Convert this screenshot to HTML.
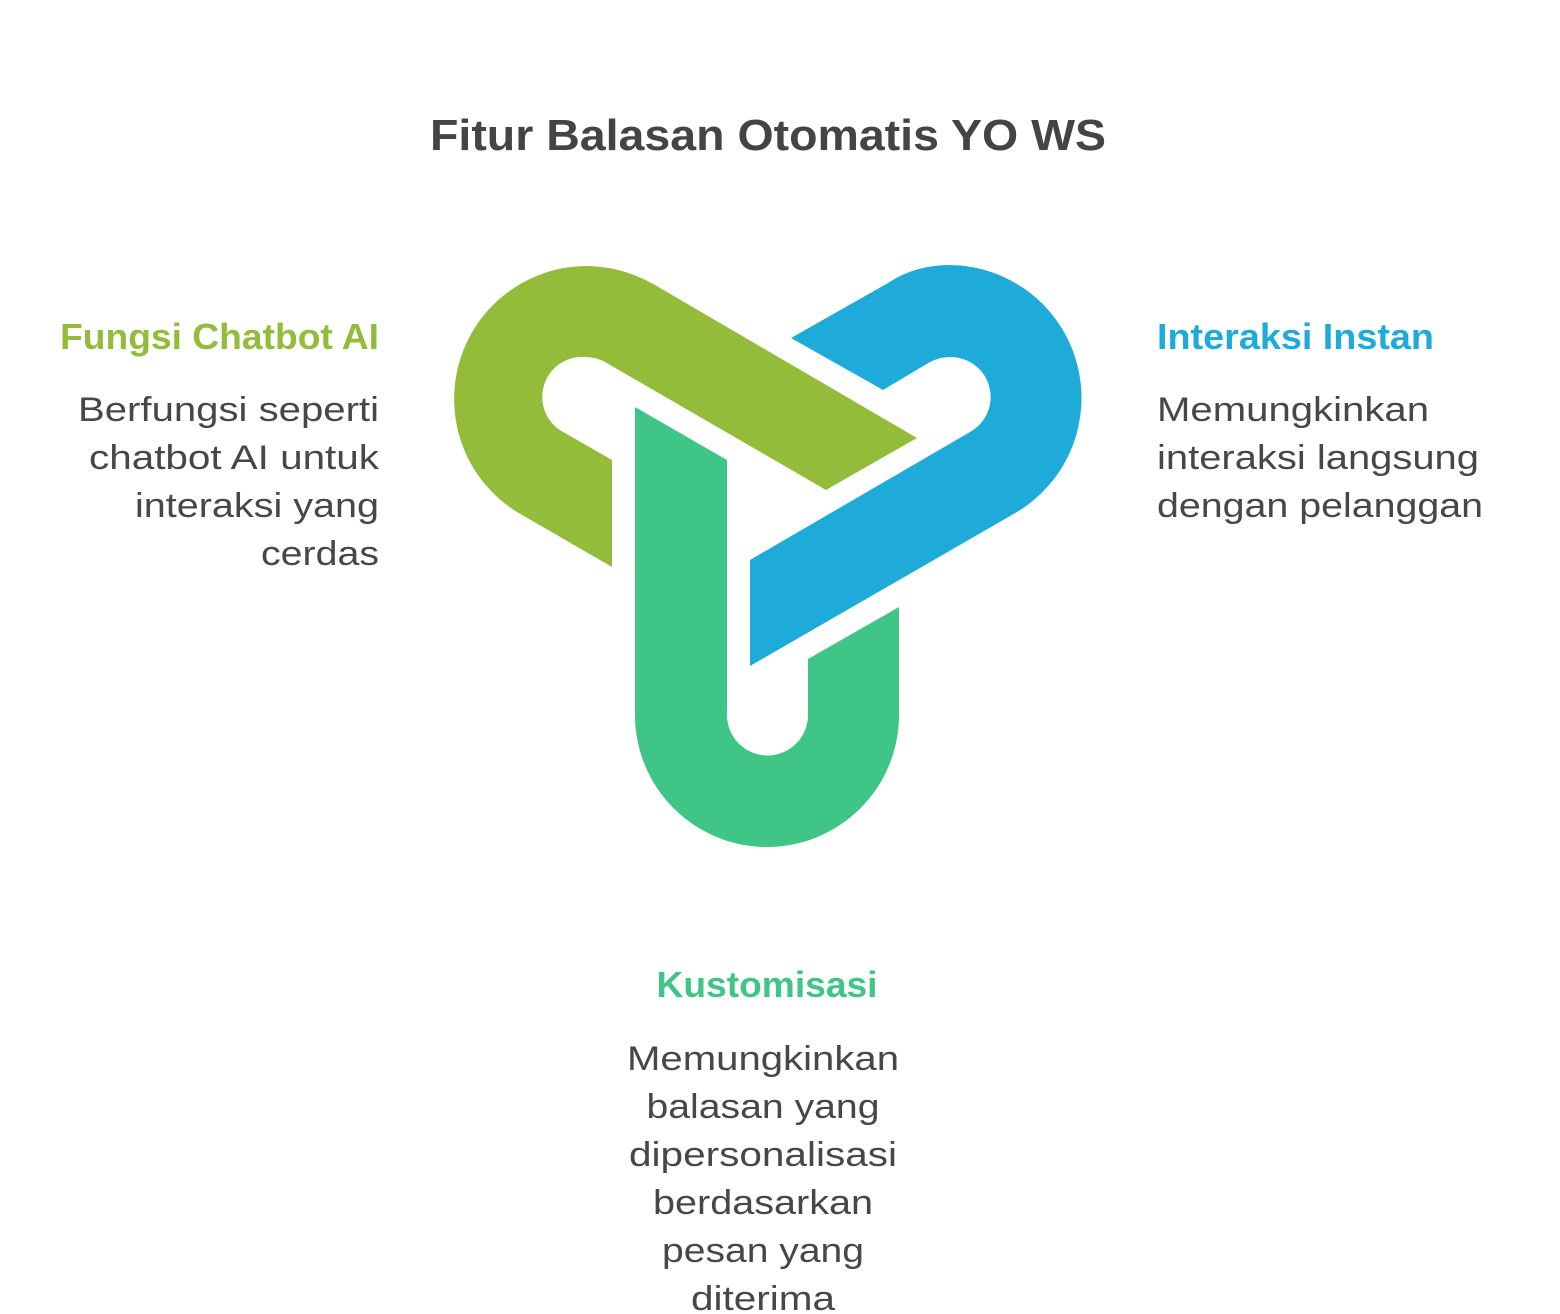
<!DOCTYPE html>
<html><head><meta charset="utf-8"><style>
html,body{margin:0;padding:0;background:#fff;}
svg{display:block;}
text{font-family:"Liberation Sans",sans-serif;}
.b{font-size:34px;fill:#474747;}
.h{font-size:36px;font-weight:bold;}
</style></head><body>
<svg width="1560" height="1314" viewBox="0 0 1560 1314" xmlns="http://www.w3.org/2000/svg">
<text x="768" y="150" text-anchor="middle" font-size="44" font-weight="bold" fill="#444" textLength="676" lengthAdjust="spacingAndGlyphs">Fitur Balasan Otomatis YO WS</text>

<!-- lime shape -->
<path fill="#93bc3b" d="M612,567 L612,460 L565,433 A40,40 0 0 1 585,357 Q596,357 605,362 L826,490 L917,438 L655,285 Q622,266 585,266 A133,133 0 0 0 517,512 Z"/>
<!-- blue shape -->
<path fill="#1fabda" d="M791,338 L883,390 L930,362 Q940,357 950,357 A40,40 0 0 1 970,432 L750,560 L750,666 L1017,512 A133,133 0 0 0 950,265 Q915,265 888,283 Z"/>
<!-- green shape -->
<path fill="#3fc585" d="M635,407 L635,715 A132,132 0 0 0 899,715 L899,607 L808,659 L808,715 A40,40 0 0 1 727,715 L727,460 Z"/>

<text class="h" x="379" y="349" text-anchor="end" fill="#93bc3b" textLength="319" lengthAdjust="spacingAndGlyphs">Fungsi Chatbot AI</text>
<text class="b" x="379" y="421" text-anchor="end" textLength="301" lengthAdjust="spacingAndGlyphs">Berfungsi seperti</text>
<text class="b" x="379" y="469" text-anchor="end" textLength="290" lengthAdjust="spacingAndGlyphs">chatbot AI untuk</text>
<text class="b" x="379" y="517" text-anchor="end" textLength="244" lengthAdjust="spacingAndGlyphs">interaksi yang</text>
<text class="b" x="379" y="565" text-anchor="end" textLength="118" lengthAdjust="spacingAndGlyphs">cerdas</text>

<text class="h" x="1157" y="349" fill="#1fabda" textLength="277" lengthAdjust="spacingAndGlyphs">Interaksi Instan</text>
<text class="b" x="1157" y="421" textLength="272" lengthAdjust="spacingAndGlyphs">Memungkinkan</text>
<text class="b" x="1157" y="469" textLength="322" lengthAdjust="spacingAndGlyphs">interaksi langsung</text>
<text class="b" x="1157" y="517" textLength="326" lengthAdjust="spacingAndGlyphs">dengan pelanggan</text>

<text class="h" x="767" y="997" text-anchor="middle" fill="#3fc585" textLength="221" lengthAdjust="spacingAndGlyphs">Kustomisasi</text>
<text class="b" x="763" y="1070" text-anchor="middle" textLength="272" lengthAdjust="spacingAndGlyphs">Memungkinkan</text>
<text class="b" x="763" y="1118" text-anchor="middle" textLength="233" lengthAdjust="spacingAndGlyphs">balasan yang</text>
<text class="b" x="763" y="1166" text-anchor="middle" textLength="268" lengthAdjust="spacingAndGlyphs">dipersonalisasi</text>
<text class="b" x="763" y="1214" text-anchor="middle" textLength="220" lengthAdjust="spacingAndGlyphs">berdasarkan</text>
<text class="b" x="763" y="1262" text-anchor="middle" textLength="202" lengthAdjust="spacingAndGlyphs">pesan yang</text>
<text class="b" x="763" y="1310" text-anchor="middle" textLength="144" lengthAdjust="spacingAndGlyphs">diterima</text>
</svg>
</body></html>
